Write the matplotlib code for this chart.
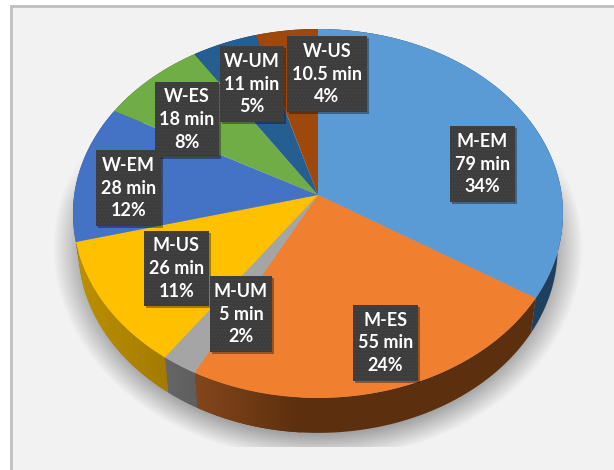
import numpy as np
import matplotlib
matplotlib.use("Agg")
import matplotlib.pyplot as plt
from matplotlib.patches import Polygon, Rectangle
from matplotlib.transforms import Transform

names = ["M-EM", "M-ES", "M-UM", "M-US", "W-EM", "W-ES", "W-UM", "W-US"]
minutes = [79, 55, 5, 26, 28, 18, 11, 10.5]
percents = [34, 24, 2, 11, 12, 8, 5, 4]

top_colors = ["#5b9bd5", "#f07f30", "#a5a5a5", "#ffc000",
              "#4472c4", "#70ad47", "#255e91", "#9e480e"]
side_left = ["#1f3f5f", "#84461c", "#666666", "#bd9000",
             "#2a4a80", "#44692b", "#163858", "#5f2b08"]
side_right = ["#1f3f5f", "#5c2f0e", "#5e5e5e", "#a37b00",
              "#2a4a80", "#44692b", "#163858", "#5f2b08"]

# label box corners in pixels: left, top, right, bottom
boxes = [(450, 126, 515, 202), (353, 305, 418, 381), (210, 276, 272, 352),
         (144, 231, 209, 306), (96, 150, 161, 226), (155, 82, 219, 157),
         (220, 46, 284, 122), (287, 36, 367, 112)]

CX, CY = 318, 195
RX, RY, TILT = 243.8, 182.6, 0.1
DEPTH = 35
BASE_SCALE = 0.978
W, H = 614, 470


class Tilted(Transform):
    """Unit circle to the tilted pie top, in image pixels."""
    input_dims = 2
    output_dims = 2

    def transform_non_affine(self, values):
        values = np.asarray(values)
        w = 1 + TILT * values[:, 1]
        return np.column_stack((CX + RX * values[:, 0] / w,
                                CY - RY * values[:, 1] / w))


tilted = Tilted()

fig = plt.figure(figsize=(W / 100, H / 100), dpi=100, facecolor="white")
ax = fig.add_axes([0, 0, 1, 1])

ax.add_patch(Rectangle((11, 6), W, H, facecolor="#f2f2f2", edgecolor="#bfbfbf",
                       linewidth=2, zorder=0))

# soft shadow under the pie
xx, yy = np.meshgrid(np.arange(W) + 0.5, np.arange(H) + 0.5)
r = np.hypot((xx - 318) / 265, (yy - 248) / 212)
shade = np.clip((1 - r) / 0.12, 0, 1) * 0.33
shade *= np.clip((yy - 150) / 50, 0, 1)
shade[yy > 447] = 0
shadow = np.zeros((H, W, 4))
shadow[..., 3] = shade
ax.imshow(shadow, extent=(0, W, H, 0), aspect="auto", zorder=1)

# side wall of each slice, the base rim is a bit narrower than the top rim
edges = np.cumsum([0] + minutes) / sum(minutes) * 2 * np.pi
for i in range(len(minutes)):
    t = np.linspace(edges[i], edges[i + 1], 80)
    rim = tilted.transform_non_affine(np.column_stack((np.sin(t), np.cos(t))))
    base = rim[::-1] + [0, DEPTH]
    base[:, 0] = CX + (base[:, 0] - CX) * BASE_SCALE
    wall = np.vstack((rim, base))
    poly = Polygon(wall, closed=True, facecolor=side_right[i], edgecolor="none", zorder=2)
    ax.add_patch(poly)
    if side_left[i] != side_right[i]:
        cmap = matplotlib.colors.LinearSegmentedColormap.from_list("", [side_left[i], side_right[i]])
        x0, x1 = wall[:, 0].min(), wall[:, 0].max()
        if i == 1:
            x1 = 300
        y0, y1 = wall[:, 1].min(), wall[:, 1].max()
        grad = ax.imshow(np.linspace(0, 1, 128)[None, :], cmap=cmap, extent=(x0, x1, y1, y0),
                         aspect="auto", zorder=2.1, interpolation="bilinear")
        grad.set_clip_path(poly)

# pie top
wedges, _ = ax.pie(minutes, colors=top_colors, startangle=90, counterclock=False)
for wedge in wedges:
    wedge.set_transform(tilted + ax.transData)
    wedge.set_zorder(3)
    wedge.set_edgecolor("none")
    wedge.set_clip_on(False)

# data labels
for name, mins, pct, (x0, y0, x1, y1) in zip(names, minutes, percents, boxes):
    ax.add_patch(Rectangle((x0 + 2, y0 + 2), x1 - x0, y1 - y0, facecolor="black",
                           alpha=0.35, edgecolor="none", zorder=4))
    ax.add_patch(Rectangle((x0, y0), x1 - x0, y1 - y0, facecolor="#3c3c3c",
                           edgecolor="#444444", hatch=".....", linewidth=0, zorder=5))
    ax.text((x0 + x1) / 2, (y0 + y1) / 2, f"{name}\n{mins:g} min\n{pct}%", color="white",
            family="Lato", fontweight="bold", fontsize=13, ha="center", va="center",
            linespacing=1.42, zorder=6)

ax.set_xlim(0, W)
ax.set_ylim(H, 0)
ax.set_aspect("auto")
ax.axis("off")

fig.savefig("out.png", dpi=100)
